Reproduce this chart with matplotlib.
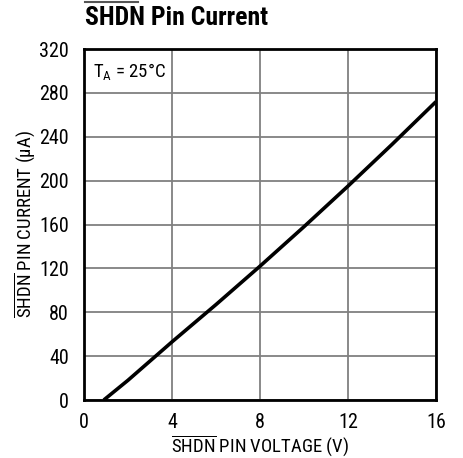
import matplotlib
matplotlib.use("Agg")
import matplotlib.pyplot as plt
from matplotlib.lines import Line2D

# ── Data ──────────────────────────────────────────────────────────────────────
voltage = [0.9, 2, 4, 6, 8, 10, 12, 14, 16]
current = [0, 18, 53, 87, 122, 158, 195, 233, 272]
x_ticks = [0, 4, 8, 12, 16]
y_ticks = [0, 40, 80, 120, 160, 200, 240, 280, 320]

FONT = ['Roboto Condensed', 'DejaVu Sans']
plt.rcParams['font.family'] = FONT
plt.rcParams['mathtext.fontset'] = 'custom'
plt.rcParams['mathtext.rm'] = FONT[0]
plt.rcParams['mathtext.it'] = FONT[0]

fig = plt.figure(figsize=(4.64, 4.58), dpi=100)
ax = fig.add_axes([84 / 464, 1 - 400 / 458, 352 / 464, 351 / 458])

ax.plot(voltage, current, color='black', lw=2.6, solid_capstyle='butt')

ax.set_xlim(0, 16)
ax.set_ylim(0, 320)
ax.set_xticks(x_ticks)
ax.set_yticks(y_ticks)
ax.tick_params(length=0, labelsize=14.5)
ax.tick_params(axis='x', pad=9)
ax.tick_params(axis='y', pad=11)
ax.grid(True, color='#808080', lw=1.3)
ax.set_axisbelow(True)
for s in ax.spines.values():
    s.set_linewidth(2.0)

ax.set_xlabel(r'$\overline{\mathrm{SHDN}}$ PIN VOLTAGE (V)', fontsize=13.5, labelpad=2)
ax.set_ylabel(r'$\overline{\mathrm{SHDN}}$ PIN CURRENT ($\mu$A)', fontsize=13.5, labelpad=1)

ax.text(0.025, 0.935, r'T$_\mathrm{A}$ = 25°C', transform=ax.transAxes,
        fontsize=13.5, va='center', ha='left')

# title with overline over "SHDN"
fig.text(85 / 464, 1 - 18 / 458, 'SHDN Pin Current', fontsize=18.5,
         fontweight='bold', va='center', ha='left')
fig.add_artist(Line2D([85 / 464, 138 / 464], [1 - 1.5 / 458, 1 - 1.5 / 458],
                      transform=fig.transFigure, color='#555555', lw=1.5))

fig.savefig('out.png', dpi=100)
